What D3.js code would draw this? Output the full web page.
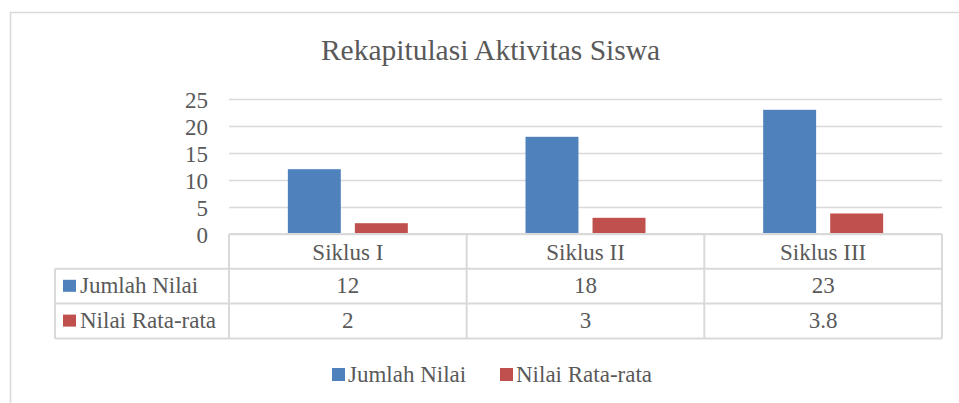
<!DOCTYPE html>
<html>
<head>
<meta charset="utf-8">
<script src="https://cdn.jsdelivr.net/npm/d3@7"></script>
<style>
  body { margin: 0; background: #fff; }
</style>
</head>
<body>
<svg id="chart" width="959" height="403"></svg>
<script>
// data
var categories = ["Siklus I", "Siklus II", "Siklus III"];
var seriesNames = ["Jumlah Nilai", "Nilai Rata-rata"];
var jumlahNilai = [12, 18, 23];
var nilaiRata = [2, 3, 3.8];
var rataLabels = ["2", "3", "3.8"];
var yTicks = [0, 5, 10, 15, 20, 25];
var colors = ["#4F81BD", "#C0504D"];

var seriesValues = [jumlahNilai, nilaiRata];
var seriesLabels = [jumlahNilai.map(String), rataLabels];

var svg = d3.select("#chart");
var grid = "#D9D9D9";
var fs = "23px";

// helper so every text gets the serif font
function txt(sel) {
  return sel.style("font-family", "'Liberation Serif'").style("fill", "#595959");
}

// outer chart border (cropped on right and bottom)
svg.append("rect")
  .attr("x", 10.5).attr("y", 12.5)
  .attr("width", 960).attr("height", 400)
  .attr("fill", "none").attr("stroke", grid).attr("stroke-width", 1.5);

// title
svg.append("text")
  .attr("x", 490.5).attr("y", 60)
  .attr("text-anchor", "middle")
  .call(txt)
  .style("font-size", "29.5px")
  .text("Rekapitulasi Aktivitas Siswa");

// scales
var y = d3.scaleLinear().domain([0, 25]).range([234, 99]);
var x0 = d3.scaleBand().domain(categories).range([229, 942]);
var x1 = d3.scaleBand().domain(seriesNames)
  .range([0, x0.bandwidth()])
  .paddingInner(0.21).paddingOuter(0.878);

// gridlines
var yAxis = d3.axisLeft(y).tickValues(yTicks).tickSize(-(942 - 229)).tickFormat("");
var gAxis = svg.append("g").attr("transform", "translate(229,0)").call(yAxis);
gAxis.select(".domain").remove();
gAxis.selectAll("line").attr("stroke", grid).attr("stroke-width", 1.5);

// tick labels
svg.append("g").selectAll("text")
  .data(yTicks)
  .enter().append("text")
  .attr("x", 208)
  .attr("y", function(d) { return y(d) + 8.5; })
  .attr("text-anchor", "end")
  .call(txt)
  .style("font-size", fs)
  .text(function(d) { return d; });

// bars
var bars = [];
categories.forEach(function(c, i) {
  seriesNames.forEach(function(s, j) {
    bars.push({cat: c, series: s, value: seriesValues[j][i], color: colors[j]});
  });
});
svg.append("g").selectAll("rect")
  .data(bars)
  .enter().append("rect")
  .attr("x", function(d) { return x0(d.cat) + x1(d.series); })
  .attr("y", function(d) { return y(d.value); })
  .attr("width", x1.bandwidth())
  .attr("height", function(d) { return y(0) - y(d.value); })
  .attr("fill", function(d) { return d.color; });

// data table
var rowTop = 234, rowH = 34.8, tableLeft = 55;
var table = svg.append("g");
var lineAttr = function(sel) { sel.attr("stroke", grid).attr("stroke-width", 2); };

// horizontal lines
table.append("line").attr("x1", 229).attr("x2", 942).attr("y1", rowTop).attr("y2", rowTop).call(lineAttr);
[1, 2, 3].forEach(function(r) {
  table.append("line")
    .attr("x1", tableLeft).attr("x2", 942)
    .attr("y1", rowTop + r * rowH).attr("y2", rowTop + r * rowH)
    .call(lineAttr);
});
// vertical lines
table.append("line").attr("x1", tableLeft).attr("x2", tableLeft)
  .attr("y1", rowTop + rowH).attr("y2", rowTop + 3 * rowH).call(lineAttr);
categories.forEach(function(c) {
  table.append("line").attr("x1", x0(c)).attr("x2", x0(c))
    .attr("y1", rowTop).attr("y2", rowTop + 3 * rowH).call(lineAttr);
});
table.append("line").attr("x1", 942).attr("x2", 942)
  .attr("y1", rowTop).attr("y2", rowTop + 3 * rowH).call(lineAttr);

// category header
table.selectAll("text.cat")
  .data(categories)
  .enter().append("text")
  .attr("class", "cat")
  .attr("x", function(d) { return x0(d) + x0.bandwidth() / 2; })
  .attr("y", rowTop + 26)
  .attr("text-anchor", "middle")
  .call(txt)
  .style("font-size", fs)
  .text(function(d) { return d; });

// series rows
seriesNames.forEach(function(s, j) {
  var ry = rowTop + (j + 1) * rowH;
  table.append("rect")
    .attr("x", 63).attr("y", ry + 11)
    .attr("width", 13).attr("height", 12)
    .attr("fill", colors[j]);
  table.append("text")
    .attr("x", 80).attr("y", ry + 24.5)
    .call(txt)
    .style("font-size", fs)
    .text(s);
  table.selectAll("text.v" + j)
    .data(categories)
    .enter().append("text")
    .attr("class", "v" + j)
    .attr("x", function(d) { return x0(d) + x0.bandwidth() / 2; })
    .attr("y", ry + 24.5)
    .attr("text-anchor", "middle")
    .call(txt)
    .style("font-size", fs)
    .text(function(d, i) { return seriesLabels[j][i]; });
});

// legend
var legendX = [332, 500];
var legend = svg.append("g");
seriesNames.forEach(function(s, j) {
  legend.append("rect")
    .attr("x", legendX[j]).attr("y", 368)
    .attr("width", 13).attr("height", 13)
    .attr("fill", colors[j]);
  legend.append("text")
    .attr("x", legendX[j] + 16).attr("y", 382)
    .call(txt)
    .style("font-size", fs)
    .text(s);
});
</script>
</body>
</html>
